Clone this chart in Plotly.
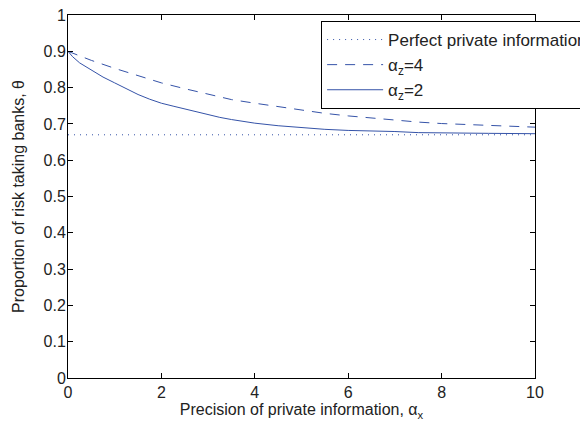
import plotly.graph_objects as go

# ---- data ----
x_solid = [0, 0.1, 0.25, 0.5, 0.75, 1.0, 1.25, 1.5, 1.75, 2.0, 2.25, 2.5, 2.75, 3.0, 3.25, 3.5, 3.75, 4.0, 4.5, 5.0, 5.5, 6.0, 6.5, 7.0, 7.5, 8.0, 9.0, 10.0]
y_solid = [0.900, 0.885, 0.868, 0.848, 0.829, 0.813, 0.796, 0.781, 0.768, 0.757, 0.749, 0.741, 0.733, 0.725, 0.718, 0.712, 0.706, 0.702, 0.695, 0.689, 0.685, 0.682, 0.681, 0.679, 0.676, 0.675, 0.674, 0.673]

x_dashed = [0, 0.5, 1.0, 1.5, 2.0, 2.5, 3.0, 3.5, 4.0, 4.5, 5.0, 5.5, 6.0, 6.5, 7.0, 7.5, 8.0, 8.5, 9.0, 9.5, 10.0]
y_dashed = [0.900, 0.875, 0.853, 0.832, 0.813, 0.797, 0.781, 0.767, 0.757, 0.747, 0.738, 0.729, 0.722, 0.716, 0.711, 0.705, 0.701, 0.699, 0.697, 0.694, 0.691]

x_perfect = [0, 10]
y_perfect = [0.67, 0.67]

x_ticks = [0, 2, 4, 6, 8, 10]
y_ticks = [0, 0.1, 0.2, 0.3, 0.4, 0.5, 0.6, 0.7, 0.8, 0.9, 1]

series_names = ["Perfect private information", "α<sub>z</sub>=4", "α<sub>z</sub>=2"]

BLUE = "#3553a8"
FONT = "Liberation Sans, Arial, sans-serif"

fig = go.Figure()
fig.add_trace(go.Scatter(x=x_perfect, y=y_perfect, mode="lines", name=series_names[0],
                         line=dict(color=BLUE, width=1, dash="1px,5px")))
fig.add_trace(go.Scatter(x=x_dashed, y=y_dashed, mode="lines", name=series_names[1],
                         line=dict(color=BLUE, width=1, dash="10px,8px")))
fig.add_trace(go.Scatter(x=x_solid, y=y_solid, mode="lines", name=series_names[2],
                         line=dict(color=BLUE, width=1)))

axis_common = dict(showline=True, linecolor="black", linewidth=1, mirror="ticks",
                   ticks="inside", ticklen=5, tickcolor="black", tickwidth=1,
                   showgrid=False, zeroline=False,
                   tickfont=dict(family=FONT, size=16, color="#222"))

fig.update_layout(
    width=580, height=423,
    margin=dict(l=68, r=45, t=15, b=45, autoexpand=False),
    paper_bgcolor="white", plot_bgcolor="white",
    font=dict(family=FONT, size=16, color="#222"),
    xaxis=dict(range=[0, 10], tickvals=x_ticks, ticktext=[str(v) for v in x_ticks],
               title=dict(text="Precision of private information, α<sub>x</sub>",
                          font=dict(family=FONT, size=16, color="#222"), standoff=0),
               automargin=False, **axis_common),
    yaxis=dict(range=[0, 1], tickvals=y_ticks, ticktext=[("%g" % v) for v in y_ticks],
               ticklabelstandoff=-2,
               title=dict(text="Proportion of risk taking banks, θ",
                          font=dict(family=FONT, size=16, color="#222"), standoff=14),
               automargin=False, **axis_common),
    showlegend=True,
    legend=dict(x=0.542, y=0.9835, xanchor="left", yanchor="top",
                bgcolor="white", bordercolor="black", borderwidth=1,
                font=dict(family=FONT, size=17, color="#222"),
                itemwidth=56, tracegroupgap=0),
)

fig.write_html("out.html", config={"displayModeBar": False},
               post_script="document.body.style.margin='0';document.body.style.padding='0';")
